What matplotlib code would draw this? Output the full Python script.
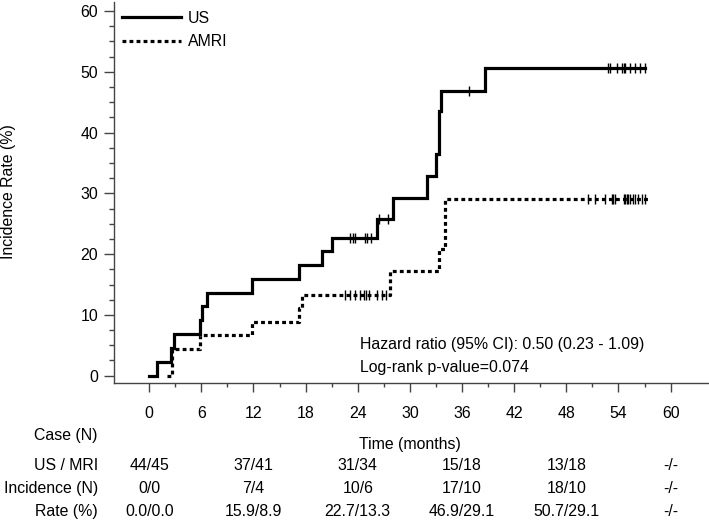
import numpy as np
import matplotlib
matplotlib.use("Agg")
import matplotlib.pyplot as plt
from matplotlib.ticker import MultipleLocator
import matplotlib.transforms as mtransforms

plt.rcParams['font.family'] = ['Liberation Sans', 'DejaVu Sans']

# ---- data ----
us_t = [0, 0.93, 2.5, 2.8, 5.8, 6.1, 6.6, 11.8, 17.2, 19.9, 21.0, 26.2, 28.0, 32.0, 33.0, 33.3, 33.4, 33.6, 38.6, 57.05]
us_y = [0, 2.3, 4.5, 6.8, 9.1, 11.4, 13.6, 15.9, 18.2, 20.5, 22.7, 25.8, 29.3, 32.8, 36.4, 40.0, 43.5, 46.9, 50.7, 50.7]
us_cens = [23.1, 23.4, 23.7, 24.8, 25.1, 25.5, 26.4, 27.5, 36.8, 52.8, 53.0, 53.8, 54.4, 54.6, 54.7,
           55.3, 55.9, 56.5, 57.0]

amri_t = [2.0, 2.6, 5.8, 11.8, 17.2, 17.6, 27.7, 33.3, 34.0, 57.6]
amri_y = [0, 4.4, 6.7, 8.9, 11.1, 13.3, 17.3, 20.8, 29.1, 29.1]
amri_cens = [22.5, 23.1, 23.7, 24.2, 24.7, 25.0, 25.3, 26.2, 26.8, 27.2, 50.5, 51.3, 52.4, 53.2, 53.4,
             53.6, 54.6, 54.8, 55.0, 55.1, 55.3, 55.7, 55.9, 56.3, 56.7, 57.1]

table_times = [0, 12, 24, 36, 48, 60]
row_labels = ["US / MRI", "Incidence (N)", "Rate (%)"]
cases = ["44/45", "37/41", "31/34", "15/18", "13/18", "-/-"]
incidence = ["0/0", "7/4", "10/6", "17/10", "18/10", "-/-"]
rates = ["0.0/0.0", "15.9/8.9", "22.7/13.3", "46.9/29.1", "50.7/29.1", "-/-"]


def step_value(t, ts, ys):
    idx = np.searchsorted(ts, t, side='right') - 1
    return np.asarray(ys)[idx]


W, H = 709, 522
fig = plt.figure(figsize=(W / 100, H / 100), dpi=100)
ax = fig.add_axes([114 / W, 1 - 383.3 / H, (708 - 114) / W, (383.3 - 2) / H])

fs = 11.4
axcol = '#444444'

ax.plot(us_t, us_y, drawstyle='steps-post', color='black', lw=2.3, label='US',
        solid_joinstyle='miter')
ax.plot(amri_t, amri_y, drawstyle='steps-post', color='black', lw=2.3,
        linestyle=(0, (1.2, 1.0)), label='AMRI')
ax.plot(us_cens, step_value(us_cens, us_t, us_y), linestyle='none', marker='|',
        ms=6.5, mew=1, color='black')
ax.plot(amri_cens, step_value(amri_cens, amri_t, amri_y), linestyle='none', marker='|',
        ms=6.5, mew=1, color='black')

ax.set_xlim(-4.05, 64.3)
ax.set_ylim(-1.26, 61.5)
ax.yaxis.set_major_locator(MultipleLocator(10))
ax.yaxis.set_minor_locator(MultipleLocator(2.5))
ax.set_xticks(range(0, 61, 6))
ax.set_xticks(np.arange(3, 61, 6), minor=True)

for s in ['top', 'right']:
    ax.spines[s].set_visible(False)
for s in ['left', 'bottom']:
    ax.spines[s].set_color(axcol)
    ax.spines[s].set_linewidth(1.0)

ax.tick_params(axis='x', which='major', length=6.5, width=1, color=axcol, pad=9.5, labelsize=fs)
ax.tick_params(axis='x', which='minor', length=3, width=1, color=axcol)
ax.tick_params(axis='y', which='major', length=7, width=1, color=axcol, pad=4.5, labelsize=fs)
ax.tick_params(axis='y', which='minor', length=3.6, width=1, color=axcol)

fig.text(9 / W, 1 - 192 / H, "Incidence Rate (%)", rotation=90, ha='center', va='center', fontsize=fs)

leg = ax.legend(loc='upper left', bbox_to_anchor=(0.0135, 0.977), frameon=False, fontsize=fs,
                handlelength=3.7, handletextpad=0.45, labelspacing=0.55, borderpad=0,
                borderaxespad=0)

fig.text(360 / W, 1 - 345 / H, "Hazard ratio (95% CI): 0.50 (0.23 - 1.09)", ha='left', va='center',
         fontsize=fs)
fig.text(360 / W, 1 - 367.7 / H, "Log-rank p-value=0.074", ha='left', va='center', fontsize=fs)

# table below
trans = mtransforms.blended_transform_factory(ax.transData, fig.transFigure)
fig.text(98 / W, 1 - 435.7 / H, "Case (N)", ha='right', va='center', fontsize=fs)
ax.text(30, 1 - 444 / H, "Time (months)", transform=trans, ha='center', va='center', fontsize=fs)
row_y = [1 - 465 / H, 1 - 488.3 / H, 1 - 511.7 / H]
for lab, yy, vals in zip(row_labels, row_y, [cases, incidence, rates]):
    fig.text(98 / W, yy, lab, ha='right', va='center', fontsize=fs)
    for t, v in zip(table_times, vals):
        ax.text(t, yy, v, transform=trans, ha='center', va='center', fontsize=fs, clip_on=False)

fig.savefig("out.png", dpi=100)
